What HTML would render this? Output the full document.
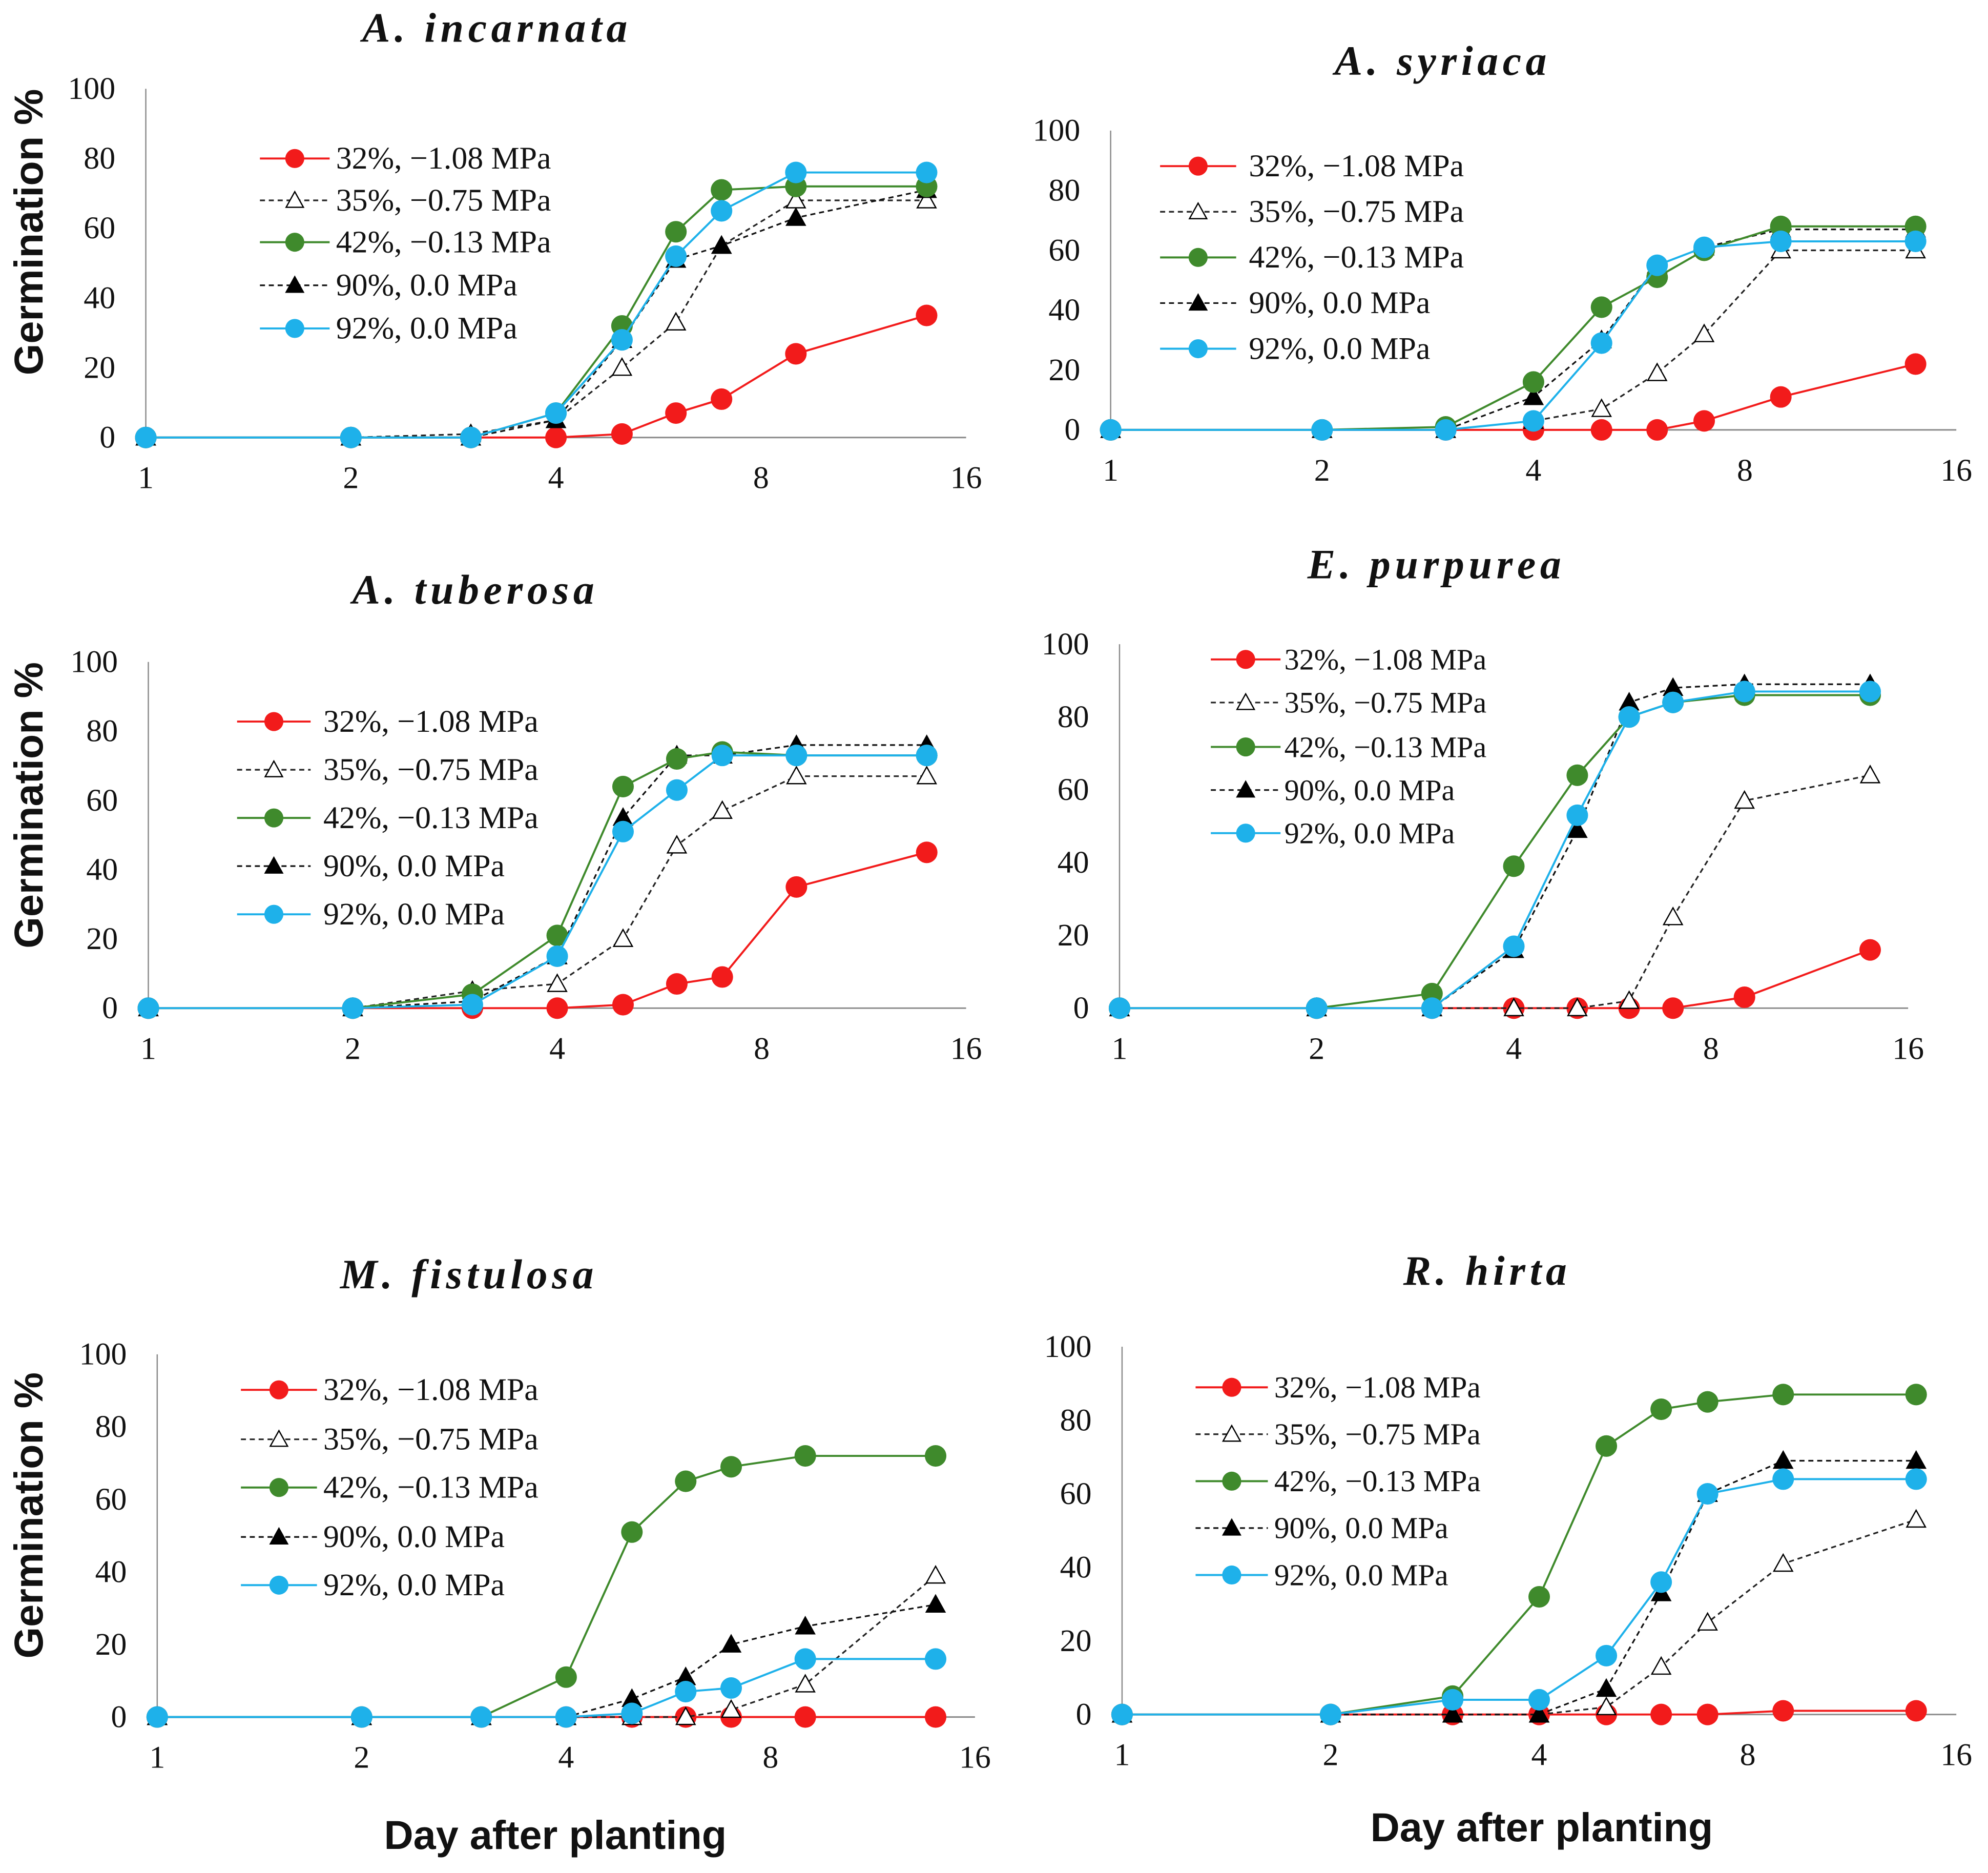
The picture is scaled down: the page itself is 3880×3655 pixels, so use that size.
<!DOCTYPE html>
<html><head><meta charset="utf-8"><style>
html,body{margin:0;padding:0;background:#fff;}
svg{display:block;}
</style></head><body>
<svg id="fig" width="3880" height="3655" viewBox="0 0 1568 1477" preserveAspectRatio="none" xmlns="http://www.w3.org/2000/svg">
</svg>
<script>
const days = [1,2,3,4,5,6,7,9,14];
const seriesLabels = ["32%, \u22121.08 MPa","35%, \u22120.75 MPa","42%, \u22120.13 MPa","90%, 0.0 MPa","92%, 0.0 MPa"];
const xTicks = [1,2,4,8,16];
const yTicks = [0,20,40,60,80,100];
const titles = ["A. incarnata","A. syriaca","A. tuberosa","E. purpurea","M. fistulosa","R. hirta"];
const p1Red=[0,0,0,0,1,7,11,24,35], p1Open=[0,0,1,5,20,33,55,68,68], p1Green=[0,0,0,7,32,59,71,72,72], p1Black=[0,0,0,5,28,51,55,63,71], p1Blue=[0,0,0,7,28,52,65,76,76];
const p2Red=[0,0,0,0,0,0,3,11,22], p2Open=[0,0,0,3,7,19,32,60,60], p2Green=[0,0,1,16,41,51,60,68,68], p2Black=[0,0,0,11,30,55,61,67,67], p2Blue=[0,0,0,3,29,55,61,63,63];
const p3Red=[0,0,0,0,1,7,9,35,45], p3Open=[0,0,5,7,20,47,57,67,67], p3Green=[0,0,4,21,64,72,74,73,73], p3Black=[0,0,2,15,55,73,73,76,76], p3Blue=[0,0,1,15,51,63,73,73,73];
const p4Red=[0,0,0,0,0,0,0,3,16], p4Open=[0,0,0,0,0,2,25,57,64], p4Green=[0,0,4,39,64,80,84,86,86], p4Black=[0,0,0,16,49,84,88,89,89], p4Blue=[0,0,0,17,53,80,84,87,87];
const p5Red=[0,0,0,0,0,0,0,0,0], p5Open=[0,0,0,0,0,0,2,9,39], p5Green=[0,0,0,11,51,65,69,72,72], p5Black=[0,0,0,0,5,11,20,25,31], p5Blue=[0,0,0,0,1,7,8,16,16];
const p6Red=[0,0,0,0,0,0,0,1,1], p6Open=[0,0,0,0,2,13,25,41,53], p6Green=[0,0,5,32,73,83,85,87,87], p6Black=[0,0,0,0,7,33,60,69,69], p6Blue=[0,0,4,4,16,36,60,64,64];

const panelData=[[p1Red,p1Open,p1Green,p1Black,p1Blue],[p2Red,p2Open,p2Green,p2Black,p2Blue],[p3Red,p3Open,p3Green,p3Black,p3Blue],[p4Red,p4Open,p4Green,p4Black,p4Blue],[p5Red,p5Open,p5Green,p5Black,p5Blue],[p6Red,p6Open,p6Green,p6Black,p6Blue]];
const layout=[
 {x0:115,x1:762,y0:345,y100:70,tx:392,ty:33,lx:205,lx2:260,tx2:265,rows:[125,158,191,225,259],fs:25},
 {x0:876,x1:1543,y0:339,y100:103,tx:1138,ty:59,lx:915,lx2:975,tx2:985,rows:[131,167,203,239,275],fs:25},
 {x0:117,x1:762,y0:795,y100:522,tx:375,ty:476,lx:187,lx2:245,tx2:255,rows:[569,607,645,683,721],fs:25},
 {x0:883,x1:1505,y0:795,y100:508,tx:1133,ty:456,lx:955,lx2:1010,tx2:1013,rows:[520,554,589,623,657],fs:23.5},
 {x0:124,x1:769,y0:1354,y100:1068,tx:370,ty:1016,lx:190,lx2:250,tx2:255,rows:[1096,1135,1173,1212,1250],fs:25},
 {x0:885,x1:1543,y0:1352,y100:1062,tx:1173,ty:1013,lx:943,lx2:1000,tx2:1005,rows:[1094,1131,1168,1205,1242],fs:24}
];
const colors=["#f21b1b","#222","#3f8a2c","#111","#1eb1ea"];
const dashed=[false,true,false,true,false];
const markers=["circle","opentri","circle","tri","circle"];
const NS="http://www.w3.org/2000/svg";
const svg=document.getElementById('fig');
function mk(tag,attrs,parent){const e=document.createElementNS(NS,tag);for(const k in attrs)e.setAttribute(k,attrs[k]);(parent||svg).appendChild(e);return e;}
function marker(g,kind,x,y,c,r){
  if(kind==="circle"){return mk('circle',{cx:x,cy:y,r:r,fill:c},g);}
  const s=r*1.05;
  const pts=`${x},${y-s} ${x-s},${y+s*0.8} ${x+s},${y+s*0.8}`;
  return mk('polygon',{points:pts,fill:kind==="tri"?"#000":"#fff",stroke:"#000","stroke-width":1},g);
}
layout.forEach((L,pi)=>{
  const g=mk('g',{});
  
  
  const xs=d=>L.x0+(L.x1-L.x0)*Math.log2(d)/4;
  const ys=v=>L.y0+(L.y100-L.y0)*v/100;
  const t=mk('text',{x:L.tx,y:L.ty,'text-anchor':'middle','font-family':'Liberation Serif, serif','font-style':'italic','font-weight':'bold','font-size':33,fill:'#111','letter-spacing':'3.5'},g);
  t.textContent=titles[pi];
  
  
  const ya=mk('line',{x1:L.x0,y1:L.y0,x2:L.x0,y2:L.y100,stroke:'#8a8a8a','stroke-width':1},g);
  
  
  const xa=mk('line',{x1:L.x0,y1:L.y0,x2:L.x1,y2:L.y0,stroke:'#8a8a8a','stroke-width':1.2},g);
  
  
  yTicks.forEach(v=>{const e=mk('text',{x:L.x0-24,y:ys(v)+8,'text-anchor':'end','font-family':'Liberation Serif, serif','font-size':25,fill:'#111'},g);e.textContent=v;
    
    });
  xTicks.forEach(v=>{const e=mk('text',{x:xs(v),y:L.y0+40,'text-anchor':'middle','font-family':'Liberation Serif, serif','font-size':25,fill:'#111'},g);e.textContent=v;
    
    });
  const order=[0,1,3,2,4];
  order.forEach(si=>{
    const vals=panelData[pi][si];
    const sg=mk('g',{},g);
    
    
    const pts=days.map((d,i)=>xs(d)+','+ys(vals[i])).join(' ');
    mk('polyline',{points:pts,fill:'none',stroke:colors[si],'stroke-width':dashed[si]?1.3:1.6,'stroke-dasharray':dashed[si]?'4,3':'none'},sg);
    days.forEach((d,i)=>{const m=marker(sg,markers[si],xs(d),ys(vals[i]),colors[si],markers[si]==="circle"?8.5:7);
      
      });
  });
  const lg=mk('g',{},g);
  
  
  seriesLabels.forEach((lab,si)=>{
    const y=L.rows[si];
    const eg=mk('g',{},lg);
    
    
    mk('line',{x1:L.lx,y1:y,x2:L.lx2,y2:y,stroke:colors[si],'stroke-width':dashed[si]?1.3:1.6,'stroke-dasharray':dashed[si]?'4,3':'none'},eg);
    marker(eg,markers[si],(L.lx+L.lx2)/2,y,colors[si],markers[si]==="circle"?7.5:6.5);
    const e=mk('text',{x:L.tx2,y:y+8,'font-family':'Liberation Serif, serif','font-size':L.fs,fill:'#111'},eg);
    e.textContent=lab;
  });
});
[[25,183],[25,635],[25,1195]].forEach(p=>{
  const e=mk('text',{x:p[0],y:p[1],transform:`rotate(-90 ${p[0]} ${p[1]})`,'text-anchor':'middle','dominant-baseline':'middle','font-family':'Liberation Sans, sans-serif','font-weight':'bold','font-size':32,fill:'#111'});
  e.textContent='Germination %';
  
  
});
[[438,1458],[1216,1452]].forEach(p=>{
  const e=mk('text',{x:p[0],y:p[1],'text-anchor':'middle','font-family':'Liberation Sans, sans-serif','font-weight':'bold','font-size':32,fill:'#111'});
  e.textContent='Day after planting';
  
  
});
</script>
</body></html>
